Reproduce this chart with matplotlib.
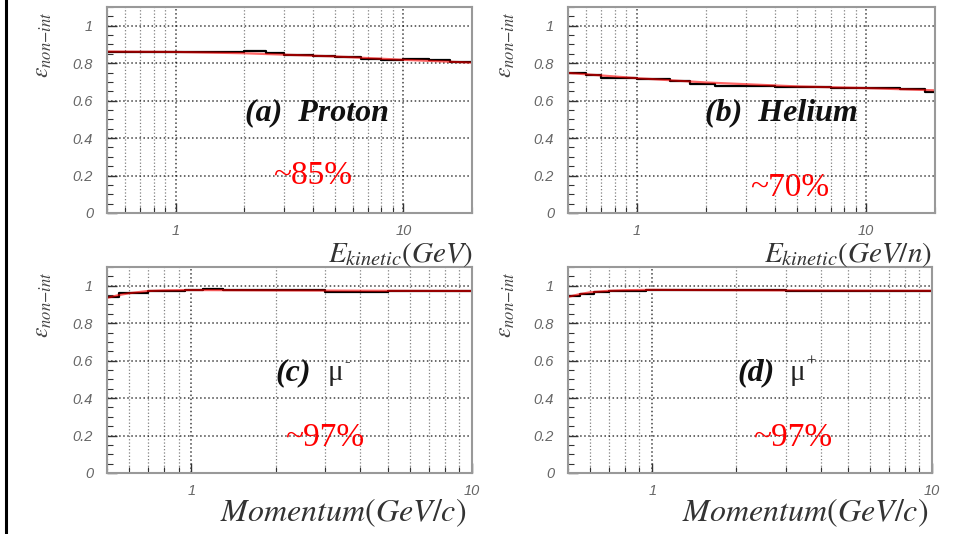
import numpy as np
import matplotlib
matplotlib.use("Agg")
import matplotlib.pyplot as plt
from matplotlib.ticker import MultipleLocator, LogLocator, NullFormatter, FixedLocator

plt.rcParams['mathtext.fontset'] = 'stix'

# ---- data ----
# (a) proton, black steps (bin edges / values) and red fit
p_edges = [0.5, 0.7, 1.0, 1.4, 2.0, 2.5, 3.0, 4.0, 5.0, 6.5, 8.0, 10, 13, 16, 20]
p_vals = [0.862, 0.862, 0.861, 0.860, 0.866, 0.852, 0.845, 0.836, 0.832, 0.822, 0.818, 0.822, 0.818, 0.806]
p_fit_x = [0.5, 1, 2, 5, 10, 20]
p_fit_y = [0.862, 0.860, 0.853, 0.836, 0.818, 0.803]

# (b) helium
he_edges = [0.5, 0.6, 0.7, 0.85, 1.0, 1.4, 1.7, 2.2, 3.0, 4.0, 7.0, 9.0, 14, 18, 20]
he_vals = [0.745, 0.735, 0.722, 0.720, 0.713, 0.705, 0.690, 0.680, 0.680, 0.673, 0.665, 0.665, 0.660, 0.646]
he_fit_x = [0.5, 1, 2, 5, 10, 20]
he_fit_y = [0.748, 0.720, 0.697, 0.676, 0.667, 0.655]

# (c) mu-
mm_edges = [0.5, 0.55, 0.62, 0.7, 0.95, 1.1, 1.3, 3.0, 4.0, 5.0, 7.0, 8.0, 10]
mm_vals = [0.940, 0.960, 0.962, 0.972, 0.975, 0.982, 0.976, 0.968, 0.968, 0.970, 0.972, 0.970]
mm_fit_x = [0.5, 0.55, 0.6, 0.7, 0.8, 1, 2, 5, 10]
mm_fit_y = [0.935, 0.950, 0.960, 0.972, 0.975, 0.977, 0.975, 0.973, 0.972]

# (d) mu+
mp_edges = [0.5, 0.55, 0.62, 0.7, 0.95, 1.3, 2.0, 3.0, 5.0, 6.0, 8.0, 10]
mp_vals = [0.945, 0.955, 0.965, 0.972, 0.976, 0.978, 0.975, 0.970, 0.972, 0.970, 0.970]
mp_fit_x = [0.5, 0.55, 0.6, 0.7, 0.8, 1, 2, 5, 10]
mp_fit_y = [0.940, 0.955, 0.965, 0.973, 0.976, 0.978, 0.976, 0.974, 0.973]

panels = [
    # edges, vals, fit x, fit y, xmax, xlabel, name, mu sign, percent
    (p_edges, p_vals, p_fit_x, p_fit_y, 20, r'$E_{kinetic}(GeV)$', 'Proton', None, '~85%'),
    (he_edges, he_vals, he_fit_x, he_fit_y, 20, r'$E_{kinetic}(GeV/n)$', 'Helium', None, '~70%'),
    (mm_edges, mm_vals, mm_fit_x, mm_fit_y, 10, r'$Momentum(GeV/c)$', None, '-', '~97%'),
    (mp_edges, mp_vals, mp_fit_x, mp_fit_y, 10, r'$Momentum(GeV/c)$', None, '+', '~97%'),
]
tags = ['(a)', '(b)', '(c)', '(d)']

W, H = 961, 534
fig = plt.figure(figsize=(W / 100, H / 100), dpi=100)

# axes boxes in pixels: left, top, right, bottom
boxes = [(107, 7, 472, 213), (568, 7, 935, 213), (107, 267, 472, 473), (568, 267, 932, 473)]
# text positions in pixels
ylab_pos = [(42, 45), (505, 45), (42, 305), (505, 305)]
xlab_pos = [(473, 255), (932, 255), (466, 513), (928, 513)]
xlab_size = [21, 21, 23, 23]
tag_pos = [(245, 113), (705, 113), (275, 373), (737, 373)]
pct_pos = [(313, 176), (790, 188), (325, 438), (793, 438)]


def fx(px):
    return px / W


def fy(py):
    return 1 - py / H


for i, (edges, vals, fitx, fity, xmax, xlab, name, sign, pct) in enumerate(panels):
    l, t, r, b = boxes[i]
    ax = fig.add_axes([fx(l), fy(b), fx(r) - fx(l), fy(t) - fy(b)])
    ax.set_xscale('log')
    ax.set_xlim(0.5, xmax)
    ax.set_ylim(0, 1.1)

    ax.step(edges, list(vals) + [vals[-1]], where='post', color='black', lw=1.6)
    ax.plot(fitx, fity, color='red', lw=1.6, alpha=0.6)

    ax.xaxis.set_major_locator(FixedLocator([1, 10]))
    ax.set_xticklabels(['1', '10'])
    ax.xaxis.set_minor_locator(LogLocator(base=10, subs=np.arange(2, 10)))
    ax.xaxis.set_minor_formatter(NullFormatter())
    ax.yaxis.set_minor_locator(MultipleLocator(0.05))
    ax.set_yticks([0, 0.2, 0.4, 0.6, 0.8, 1.0])
    ax.set_yticklabels(['0', '0.2', '0.4', '0.6', '0.8', '1'])

    ax.grid(True, which='major', axis='both', color='black', ls=':', lw=1.1, alpha=0.75)
    ax.grid(True, which='minor', axis='x', color='black', ls=':', lw=0.9, alpha=0.5)

    ax.tick_params(which='major', direction='in', length=7, width=1, color='#333',
                   labelsize=10.5, labelcolor='#666', pad=10)
    ax.tick_params(axis='x', which='major', pad=8)
    ax.tick_params(which='minor', direction='in', length=4, width=0.8, color='#333')
    ax.tick_params(top=False, right=False)
    for lab in ax.get_xticklabels() + ax.get_yticklabels():
        lab.set_fontstyle('italic')
        lab.set_family('Liberation Sans')
    for sp in ax.spines.values():
        sp.set_color('#999999')
        sp.set_linewidth(1.5)

    # axis titles
    x, y = ylab_pos[i]
    fig.text(fx(x), fy(y), r'$\varepsilon_{non{-}int}$', rotation=90, ha='center', va='center',
             fontsize=17, color='#444')
    x, y = xlab_pos[i]
    fig.text(fx(x), fy(y), xlab, ha='right', va='center', fontsize=xlab_size[i], color='#333')

    # panel tags
    x, y = tag_pos[i]
    if name is not None:
        fig.text(fx(x), fy(y), tags[i] + '  ' + name, ha='left', va='center', fontsize=23,
                 family='Liberation Serif', weight='bold', style='italic', color='#111')
    else:
        fig.text(fx(x), fy(y), tags[i], ha='left', va='center', fontsize=23,
                 family='Liberation Serif', weight='bold', style='italic', color='#111')
        fig.text(fx(x + 53), fy(y), 'μ', ha='left', va='center', fontsize=21,
                 family='Liberation Serif', color='#222')
        fig.text(fx(x + 69), fy(y - 11), sign, ha='left', va='center', fontsize=12,
                 family='Liberation Serif', color='#222')

    x, y = pct_pos[i]
    fig.text(fx(x), fy(y), pct, ha='center', va='center', fontsize=24,
             family='Liberation Serif', color='red')

# black border line on the left
fig.add_artist(plt.Line2D([fx(6), fx(6)], [0, 1], color='black', lw=2.2))

fig.savefig('out.png', dpi=100)
